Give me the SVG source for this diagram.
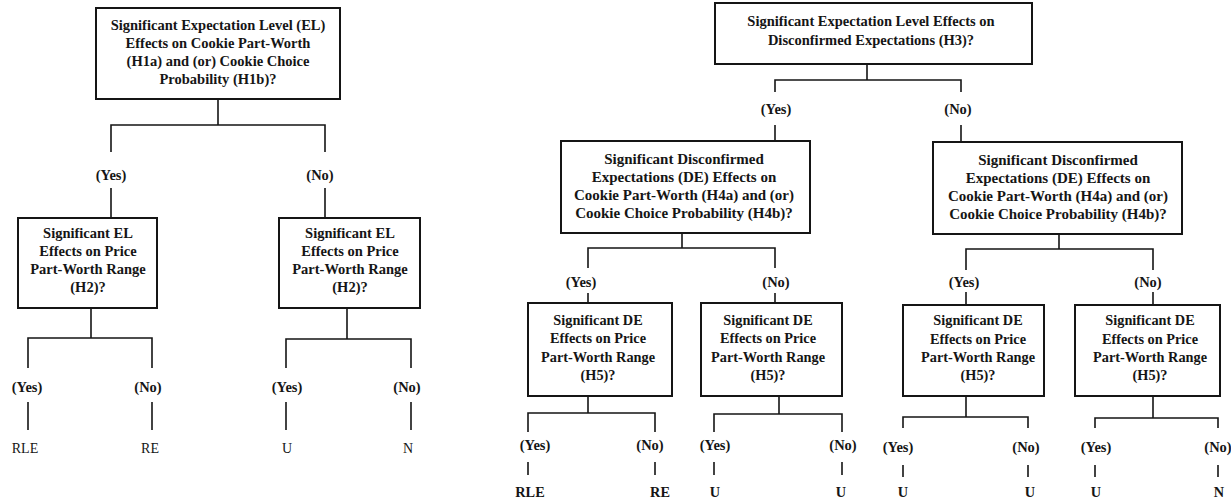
<svg xmlns="http://www.w3.org/2000/svg" width="1231" height="502" viewBox="0 0 1231 502">
<style>
.box{fill:#fff;stroke:#151515;stroke-width:2}
.ln{fill:none;stroke:#151515;stroke-width:1.6}
.t{font-family:"Liberation Serif","Times New Roman",serif;font-weight:bold;font-size:14.5px;text-anchor:middle;fill:#151515}
.m{font-size:15px}
.s{font-size:14.3px}
.r{font-weight:normal;font-size:14px}
</style>
<rect width="1231" height="502" fill="#fff"/>
<g id="connectors" class="ln">
<path d="M218,99V125M111,152V125H325V152"/>
<path d="M111,188V218M325,188V218"/>
<path d="M91,308V338M28,368V338H152V368"/>
<path d="M28,402V430M152,402V430"/>
<path d="M347,308V339M286,368V339H411V368"/>
<path d="M286,402V430M411,402V430"/>
<path d="M867,64V80M775,92V80H961V92"/>
<path d="M775,125V141M961,125V142"/>
<path d="M682,233V248M588,268V248H775V268"/>
<path d="M588,293V303M775,293V303"/>
<path d="M1059,234V249M966,270V249H1153V270"/>
<path d="M966,292V305M1153,292V305"/>
<path d="M588,396V413M528,432V413H655V432"/>
<path d="M528,462V475M655,462V475"/>
<path d="M779,396V414M714,432V414H842V432"/>
<path d="M714,462V475M842,462V475"/>
<path d="M966,396V417M903,428V417H1028V428"/>
<path d="M903,465V477M1028,465V477"/>
<path d="M1153,396V418M1095,428V418H1218V428"/>
<path d="M1095,465V477M1218,465V477"/>
</g>
<g id="labels" class="t">
<text x="111" y="180">(Yes)</text><text x="320" y="180">(No)</text>
<text x="27" y="392">(Yes)</text><text x="148" y="392">(No)</text>
<text x="287" y="392">(Yes)</text><text x="407" y="392">(No)</text>
<text x="776" y="114">(Yes)</text><text x="958" y="114">(No)</text>
<text x="581" y="287">(Yes)</text><text x="776" y="287">(No)</text>
<text x="964" y="287">(Yes)</text><text x="1148" y="287">(No)</text>
<text x="535" y="450">(Yes)</text><text x="650" y="450">(No)</text>
<text x="715" y="450">(Yes)</text><text x="843" y="450">(No)</text>
<text x="898" y="452">(Yes)</text><text x="1026" y="452">(No)</text>
<text x="1096" y="452">(Yes)</text><text x="1218" y="452">(No)</text>
</g>
<g id="leaves" class="t">
<text class="r" x="25" y="453">RLE</text><text class="r" x="150" y="453">RE</text>
<text class="r" x="287" y="453">U</text><text class="r" x="408" y="453">N</text>
<text class="s" x="530" y="497">RLE</text><text class="s" x="660" y="497">RE</text>
<text class="s" x="715" y="497">U</text><text class="s" x="841" y="497">U</text>
<text class="s" x="903" y="497">U</text><text class="s" x="1030" y="497">U</text>
<text class="s" x="1096" y="497">U</text><text class="s" x="1219" y="497">N</text>
</g>
<g id="node-el">
<rect class="box" x="96" y="8" width="244" height="91"/>
<text class="t"><tspan x="218" y="30">Significant Expectation Level (EL)</tspan><tspan x="218" y="48">Effects on Cookie Part-Worth</tspan><tspan x="218" y="66">(H1a) and (or) Cookie Choice</tspan><tspan x="218" y="84">Probability (H1b)?</tspan></text>
</g>
<g id="node-h2-yes">
<rect class="box" x="18" y="218" width="139" height="90"/>
<text class="t"><tspan x="88" y="238">Significant EL</tspan><tspan x="88" y="256">Effects on Price</tspan><tspan x="88" y="274">Part-Worth Range</tspan><tspan x="88" y="292">(H2)?</tspan></text>
</g>
<g id="node-h2-no">
<rect class="box" x="279" y="218" width="141" height="90"/>
<text class="t"><tspan x="350" y="238">Significant EL</tspan><tspan x="350" y="256">Effects on Price</tspan><tspan x="350" y="274">Part-Worth Range</tspan><tspan x="350" y="292">(H2)?</tspan></text>
</g>
<g id="node-h3">
<rect class="box" x="715" y="3" width="317" height="61"/>
<text class="t"><tspan x="871" y="26">Significant Expectation Level Effects on</tspan><tspan x="871" y="45">Disconfirmed Expectations (H3)?</tspan></text>
</g>
<g id="node-h4-yes">
<rect class="box" x="561" y="141" width="249" height="92"/>
<text class="t m"><tspan x="684" y="164">Significant Disconfirmed</tspan><tspan x="684" y="182">Expectations (DE) Effects on</tspan><tspan x="684" y="200">Cookie Part-Worth (H4a) and (or)</tspan><tspan x="684" y="218">Cookie Choice Probability (H4b)?</tspan></text>
</g>
<g id="node-h4-no">
<rect class="box" x="933" y="142" width="249" height="92"/>
<text class="t m"><tspan x="1058" y="165">Significant Disconfirmed</tspan><tspan x="1058" y="183">Expectations (DE) Effects on</tspan><tspan x="1058" y="201">Cookie Part-Worth (H4a) and (or)</tspan><tspan x="1058" y="219">Cookie Choice Probability (H4b)?</tspan></text>
</g>
<g id="node-h5-a">
<rect class="box" x="528" y="303" width="144" height="93"/>
<text class="t s"><tspan x="598" y="325">Significant DE</tspan><tspan x="598" y="343">Effects on Price</tspan><tspan x="598" y="362">Part-Worth Range</tspan><tspan x="598" y="380">(H5)?</tspan></text>
</g>
<g id="node-h5-b">
<rect class="box" x="701" y="303" width="141" height="93"/>
<text class="t s"><tspan x="768" y="325">Significant DE</tspan><tspan x="768" y="343">Effects on Price</tspan><tspan x="768" y="362">Part-Worth Range</tspan><tspan x="768" y="380">(H5)?</tspan></text>
</g>
<g id="node-h5-c">
<rect class="box" x="903" y="305" width="141" height="91"/>
<text class="t s"><tspan x="978" y="325">Significant DE</tspan><tspan x="978" y="344">Effects on Price</tspan><tspan x="978" y="362">Part-Worth Range</tspan><tspan x="978" y="380">(H5)?</tspan></text>
</g>
<g id="node-h5-d">
<rect class="box" x="1075" y="305" width="145" height="91"/>
<text class="t s"><tspan x="1150" y="325">Significant DE</tspan><tspan x="1150" y="344">Effects on Price</tspan><tspan x="1150" y="362">Part-Worth Range</tspan><tspan x="1150" y="380">(H5)?</tspan></text>
</g>
</svg>
